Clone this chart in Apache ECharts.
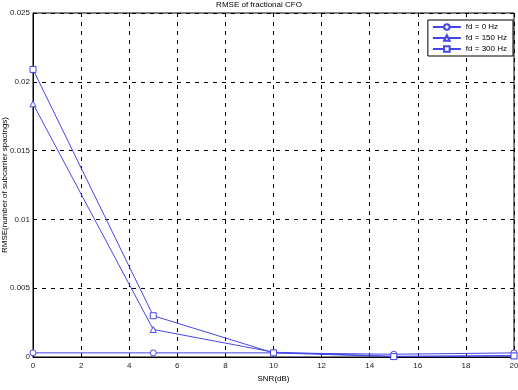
<!DOCTYPE html>
<html>
<head>
<meta charset="utf-8">
<script src="https://cdn.jsdelivr.net/npm/echarts@6/dist/echarts.min.js"></script>
<style>
  html, body { margin: 0; padding: 0; background: #fff; }
  #myChart { width: 518px; height: 390px; }
</style>
</head>
<body>
<div id="myChart"></div>
<script>
// SNR points (dB)
var snr = [0, 5, 10, 15, 20];
// RMSE per doppler
var fd0 = [0.00030, 0.00030, 0.00030, 0.00020, 0.00030];
var fd150 = [0.01840, 0.00200, 0.00035, 0.00005, 0.00010];
var fd300 = [0.02090, 0.00300, 0.00030, 0.00003, 0.00008];
var seriesNames = ['fd = 0 Hz', 'fd = 150 Hz', 'fd = 300 Hz'];

var lineColor = '#4646e6';
var font = 'Liberation Sans, Arial, sans-serif';

function pairs(ys) {
    return snr.map(function (x, i) { return [x, ys[i]]; });
}

function mkSeries(name, ys, symbol) {
    return {
        name: name,
        type: 'line',
        data: pairs(ys),
        symbol: symbol,
        symbolSize: 6,
        showAllSymbol: true,
        lineStyle: { color: lineColor, width: 1 },
        itemStyle: { color: '#fff', borderColor: lineColor, borderWidth: 1 },
        emphasis: { disabled: true },
        animation: false
    };
}

var dom = document.getElementById('myChart');
var myChart = echarts.init(dom);

var option = {
    backgroundColor: '#fff',
    title: {
        text: 'RMSE of fractional CFO',
        left: 'center',
        top: 1,
        padding: 0,
        textStyle: { fontSize: 8, fontWeight: 'normal', color: '#000', fontFamily: font }
    },
    legend: {
        orient: 'vertical',
        right: 5,
        top: 20,
        itemWidth: 28,
        itemHeight: 7,
        itemGap: 3,
        padding: [3, 6, 3, 4],
        borderColor: '#000',
        borderWidth: 1,
        backgroundColor: '#fff',
        textStyle: { fontSize: 8, color: '#000', fontFamily: font },
        data: seriesNames
    },
    grid: {
        left: 33,
        right: 4,
        top: 13,
        bottom: 33,
        outerBoundsMode: 'none',
        containLabel: false,
        show: true,
        borderColor: '#000',
        borderWidth: 1
    },
    xAxis: {
        type: 'value',
        min: 0,
        max: 20,
        interval: 2,
        name: 'SNR(dB)',
        nameLocation: 'middle',
        nameGap: 16,
        nameTextStyle: { fontSize: 8, color: '#000', fontFamily: font },
        axisLine: { show: true, lineStyle: { color: '#000' } },
        axisTick: { show: true, inside: true, length: 4, lineStyle: { color: '#000' } },
        axisLabel: { fontSize: 8, color: '#222', margin: 5, fontFamily: font },
        splitLine: { show: true, lineStyle: { color: '#000', type: [4, 5], width: 1 } }
    },
    yAxis: {
        type: 'value',
        min: 0,
        max: 0.025,
        interval: 0.005,
        name: 'RMSE(number of subcarrier spacings)',
        nameLocation: 'middle',
        nameGap: 24,
        nameMoveOverlap: false,
        nameTextStyle: { fontSize: 8, color: '#000', fontFamily: font },
        axisLine: { show: true, lineStyle: { color: '#000' } },
        axisTick: { show: true, inside: true, length: 4, lineStyle: { color: '#000' } },
        axisLabel: {
            fontSize: 8, color: '#222', margin: 3, fontFamily: font,
            formatter: function (v) { return v === 0 ? '0' : String(+v.toFixed(3)); }
        },
        splitLine: { show: true, lineStyle: { color: '#000', type: [4, 5], width: 1 } }
    },
    series: [
        mkSeries(seriesNames[0], fd0, 'circle'),
        mkSeries(seriesNames[1], fd150, 'triangle'),
        mkSeries(seriesNames[2], fd300, 'rect')
    ]
};
myChart.setOption(option, true);
</script>
</body>
</html>
